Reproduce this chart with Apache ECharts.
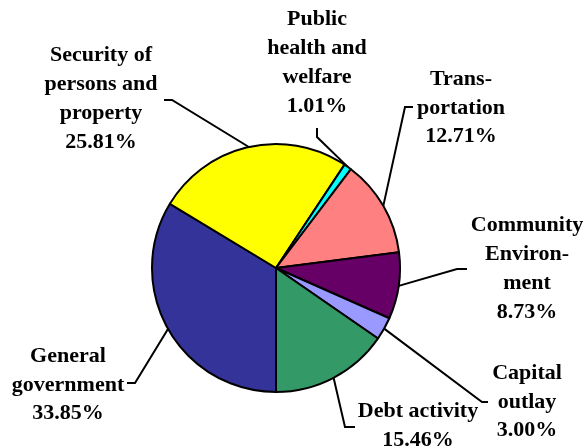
<!DOCTYPE html>
<html>
<head>
<meta charset="utf-8">
<script src="https://cdn.jsdelivr.net/npm/echarts@6/dist/echarts.min.js"></script>
<style>
  html, body { margin: 0; padding: 0; background: #fff; }
  #chart { width: 587px; height: 448px; }
</style>
</head>
<body>
<div id="chart"></div>
<script>
// Expenditure shares by function, in percent
const categories = [
  'General\ngovernment',
  'Security of\npersons and\nproperty',
  'Public\nhealth and\nwelfare',
  'Trans-\nportation',
  'Community\nEnviron-\nment',
  'Capital\noutlay',
  'Debt activity'
];
const shares = [33.85, 25.81, 1.01, 12.71, 8.73, 3.00, 15.46];
const colors = ['#333399', '#FFFF00', '#00FFFF', '#FF8080', '#660066', '#9999FF', '#339966'];

// Label anchor (block centre) and the elbow / end of each leader line
const labelPos = [
  { x: 68,  y: 385, elbow: [135, 383], end: [127, 383] },
  { x: 101, y: 99,  elbow: [172, 100], end: [164, 100] },
  { x: 317, y: 63,  elbow: [317, 137], end: [317, 128] },
  { x: 461, y: 108, elbow: [405, 107], end: [413, 107] },
  { x: 527, y: 269, elbow: [457, 269], end: [467, 269] },
  { x: 527, y: 402, elbow: [482, 402], end: [488, 402] },
  { x: 418, y: 426, elbow: [345, 427], end: [355, 427] }
];

const chart = echarts.init(document.getElementById('chart'), null, { renderer: 'canvas' });
chart.setOption({
  backgroundColor: '#ffffff',
  animation: false,
  series: [{
    type: 'pie',
    center: [276, 268],
    radius: 124,
    startAngle: 270,
    clockwise: true,
    avoidLabelOverlap: false,
    data: categories.map((name, i) => ({
      name: name,
      value: shares[i],
      itemStyle: { color: colors[i] }
    })),
    itemStyle: { borderColor: '#000', borderWidth: 2 },
    label: {
      show: true,
      formatter: p => p.name + '\n' + p.value.toFixed(2) + '%',
      fontFamily: '"Liberation Serif", serif',
      fontWeight: 'bold',
      fontSize: 22,
      lineHeight: 28.8,
      color: '#000',
      align: 'center'
    },
    labelLine: {
      show: true,
      length: 20,
      length2: 10,
      lineStyle: { color: '#000', width: 2 }
    },
    labelLayout: function (params) {
      const pos = labelPos[params.dataIndex];
      const start = params.labelLinePoints ? params.labelLinePoints[0] : pos.elbow;
      return {
        x: pos.x,
        y: pos.y,
        align: 'center',
        verticalAlign: 'middle',
        labelLinePoints: [start, pos.elbow, pos.end]
      };
    },
    emphasis: { disabled: true }
  }]
});
</script>
</body>
</html>
